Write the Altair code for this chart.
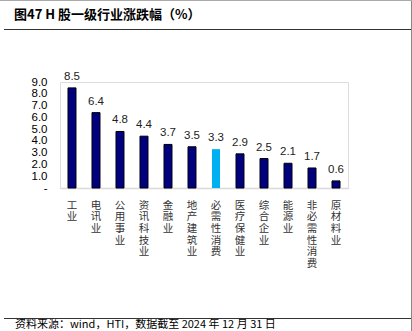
import altair as alt
import pandas as pd

categories = ["工业", "电讯业", "公用事业", "资讯科技业", "金融业", "地产建筑业",
              "必需性消费", "医疗保健业", "综合企业", "能源业", "非必需性消费", "原材料业"]
values = [8.5, 6.4, 4.8, 4.4, 3.7, 3.5, 3.3, 2.9, 2.5, 2.1, 1.7, 0.6]
highlight = ["否", "否", "否", "否", "否", "否", "是", "否", "否", "否", "否", "否"]
y_ticks = [0, 1, 2, 3, 4, 5, 6, 7, 8, 9]
title_text = "图47 H 股一级行业涨跌幅（%）"
source_text = "资料来源：wind，HTI，数据截至 2024 年 12 月 31 日"

df = pd.DataFrame({"cat": categories, "val": values, "hl": highlight})
one = pd.DataFrame({"k": [0]})

W, H = 288, 106
PAD_L, PAD_T = 60, 82

x_enc = alt.X("cat:N", sort=categories, title=None,
              scale=alt.Scale(paddingInner=0.667, paddingOuter=0.333),
              axis=alt.Axis(labelAngle=0, labelExpr="split(datum.label, '')",
                            labelFont="Noto Sans CJK SC", labelFontSize=10.5,
                            labelFontWeight="normal",
                            labelLineHeight=11.7, labelColor="#333333",
                            labelBaseline="top", labelPadding=12, labelOverlap=False,
                            ticks=False, domainColor="#d9d9d9", domainWidth=1.5))
y_enc = alt.Y("val:Q", title=None,
              scale=alt.Scale(domain=[0, 9], nice=False),
              axis=alt.Axis(values=y_ticks, grid=False, ticks=False, domain=False,
                            labelOverlap=False,
                            labelExpr="datum.value == 0 ? '-\u00a0\u00a0' : format(datum.value, '.1f')",
                            labelFont="Liberation Sans", labelFontSize=11.5,
                            labelColor="#000000", labelPadding=13))

bars = alt.Chart(df).mark_bar(stroke="#000000", strokeWidth=1).encode(
    x=x_enc, y=y_enc,
    color=alt.Color("hl:N", scale=alt.Scale(domain=["否", "是"], range=["#000080", "#00B0F0"]), legend=None),
    strokeOpacity=alt.condition(alt.datum.hl == "是", alt.value(0), alt.value(1)),
)

labels = alt.Chart(df).mark_text(baseline="bottom", dy=-6, font="Liberation Sans",
                                 fontSize=11.5, color="#222222").encode(
    x=x_enc, y=y_enc, text=alt.Text("val:Q", format=".1f"))

title = alt.Chart(one).mark_text(align="left", baseline="middle", font="Noto Sans CJK SC",
                                 fontSize=13, fontWeight="bold", color="#000000").encode(
    x=alt.value(14 - PAD_L), y=alt.value(15 - PAD_T), text=alt.value(title_text))

source = alt.Chart(one).mark_text(align="left", baseline="middle", font="Noto Sans CJK SC",
                                  fontSize=11, fontWeight="normal", color="#000000").encode(
    x=alt.value(15 - PAD_L), y=alt.value(325 - PAD_T), text=alt.value(source_text))

line_top = alt.Chart(one).mark_rule(color="#333333", strokeWidth=1).encode(
    x=alt.value(4 - PAD_L), x2=alt.value(412 - PAD_L), y=alt.value(29.5 - PAD_T))
line_bottom = alt.Chart(one).mark_rule(color="#333333", strokeWidth=1).encode(
    x=alt.value(4 - PAD_L), x2=alt.value(412 - PAD_L), y=alt.value(318.5 - PAD_T))
line_right = alt.Chart(one).mark_rule(color="#888888", strokeWidth=1).encode(
    x=alt.value(411.5 - PAD_L), y=alt.value(0 - PAD_T), y2=alt.value(331 - PAD_T))
line_very_top = alt.Chart(one).mark_rule(color="#aaaaaa", strokeWidth=1).encode(
    x=alt.value(0 - PAD_L), x2=alt.value(412 - PAD_L), y=alt.value(0.5 - PAD_T))

chart = alt.layer(bars, labels, title, source, line_top, line_bottom, line_right, line_very_top).properties(
    width=W, height=H,
    autosize=alt.AutoSizeParams(type="none"),
    padding={"left": PAD_L, "top": PAD_T, "right": 412 - PAD_L - W, "bottom": 331 - PAD_T - H},
).configure_view(stroke=None).configure(background="white")

chart.save("out.html", embed_options={"renderer": "svg", "actions": False})
